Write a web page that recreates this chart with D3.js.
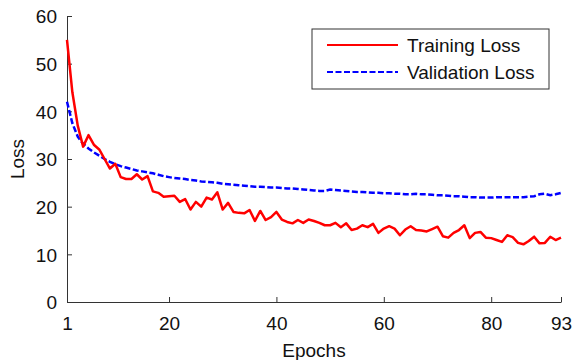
<!DOCTYPE html>
<html>
<head>
<meta charset="utf-8">
<script src="https://cdn.jsdelivr.net/npm/d3@7"></script>
<style>
  body { margin: 0; background: #fff; }
  svg { display: block; font-family: "Liberation Sans", Arial, sans-serif; }
</style>
</head>
<body>
<svg id="chart" width="574" height="360"></svg>
<script>
// training loss per epoch (1..93)
const trainLoss = [
  55, 44, 37, 32.6, 35, 33, 32, 30, 28, 29,
  26.2, 25.8, 25.8, 26.8, 25.7, 26.4, 23.2, 22.9, 22.1, 22.2,
  22.3, 21, 21.6, 19.4, 21, 20, 21.9, 21.5, 23, 19.4,
  20.8, 18.9, 18.7, 18.6, 19.3, 17, 19.1, 17.2, 17.8, 18.9,
  17.3, 16.8, 16.5, 17.2, 16.6, 17.3, 17, 16.6, 16.1, 16.1,
  16.6, 15.7, 16.5, 15.1, 15.4, 16.1, 15.7, 16.4, 14.5, 15.4,
  15.9, 15.4, 14, 15.2, 15.9, 15.1, 15.0, 14.8, 15.3, 15.8,
  13.8, 13.5, 14.5, 15.1, 16.1, 13.4, 14.5, 14.7, 13.5, 13.4,
  13, 12.6, 14, 13.6, 12.4, 12.1, 12.8, 13.7, 12.3, 12.4,
  13.7, 13, 13.5
];

// validation loss per epoch (1..93)
const valLoss = [
  42, 37.5, 34.7, 33.2, 32.2, 31.4, 30.7, 30.0, 29.4, 28.9,
  28.5, 28.2, 27.9, 27.6, 27.4, 27.2, 27.0, 26.7, 26.4, 26.2,
  26.0, 25.9, 25.8, 25.6, 25.5, 25.3, 25.2, 25.1, 25.0, 24.8,
  24.7, 24.6, 24.5, 24.4, 24.3, 24.2, 24.2, 24.1, 24.0, 24.0,
  23.9, 23.8, 23.8, 23.7, 23.6, 23.5, 23.4, 23.3, 23.3, 23.6,
  23.5, 23.4, 23.3, 23.2, 23.1, 23.1, 23.0, 22.9, 22.9, 22.8,
  22.8, 22.7, 22.7, 22.6, 22.6, 22.7, 22.6, 22.6, 22.5, 22.4,
  22.4, 22.3, 22.2, 22.2, 22.1, 22.0, 22.0, 21.9, 21.9, 21.9,
  22.0, 22.0, 22.0, 22.0, 22.0, 22.0, 22.1, 22.2, 22.6, 22.7,
  22.4, 22.6, 22.9
];

const xTicks = [1, 20, 40, 60, 80, 93];
const yTicks = [0, 10, 20, 30, 40, 50, 60];
const seriesNames = ["Training Loss", "Validation Loss"];

const margin = {left: 67, right: 13, top: 16, bottom: 58};
const width = 574, height = 360;
const fontSize = 19;
const axisColor = "#333";

const svg = d3.select("#chart");

const x = d3.scaleLinear().domain([1, 93]).range([margin.left, width - margin.right]);
const y = d3.scaleLinear().domain([0, 60]).range([height - margin.bottom, margin.top]);

// axes (matlab style: inward ticks, no box)
const xAxis = d3.axisBottom(x).tickValues(xTicks).tickSizeInner(-5).tickSizeOuter(0).tickPadding(10);
const yAxis = d3.axisLeft(y).tickValues(yTicks).tickSizeInner(-5).tickSizeOuter(0).tickPadding(10);

const gx = svg.append("g")
  .attr("transform", `translate(0,${y(0)})`)
  .call(xAxis);
const gy = svg.append("g")
  .attr("transform", `translate(${x(1)},0)`)
  .call(yAxis);

[gx, gy].forEach(g => {
  g.select(".domain").attr("stroke", axisColor).attr("stroke-width", 1);
  g.selectAll(".tick line").attr("stroke", axisColor);
  g.selectAll(".tick text")
    .attr("font-size", fontSize)
    .attr("font-family", "Liberation Sans, Arial, sans-serif")
    .attr("fill", "#111");
});
gx.selectAll(".tick text").attr("dy", "0.95em");
gy.selectAll(".tick text").attr("dy", "0.36em");

// axis labels
svg.append("text")
  .attr("x", (x(1) + x(93)) / 2)
  .attr("y", 357)
  .attr("text-anchor", "middle")
  .attr("font-size", fontSize)
  .attr("fill", "#111")
  .text("Epochs");

svg.append("text")
  .attr("transform", `translate(24,${(y(0) + y(60)) / 2}) rotate(-90)`)
  .attr("text-anchor", "middle")
  .attr("font-size", fontSize)
  .attr("fill", "#111")
  .text("Loss");

// lines
const line = d3.line()
  .x((d, i) => x(i + 1))
  .y(d => y(d));

svg.append("path")
  .datum(valLoss)
  .attr("fill", "none")
  .attr("stroke", "#0000ff")
  .attr("stroke-width", 2.5)
  .attr("stroke-dasharray", "6,2.5")
  .attr("d", line);

svg.append("path")
  .datum(trainLoss)
  .attr("fill", "none")
  .attr("stroke", "#ff0000")
  .attr("stroke-width", 2.5)
  .attr("stroke-linejoin", "round")
  .attr("d", line);

// legend
const legend = svg.append("g").attr("transform", "translate(312,29)");
legend.append("rect")
  .attr("width", 237)
  .attr("height", 60)
  .attr("fill", "#fff")
  .attr("stroke", axisColor)
  .attr("stroke-width", 1);

const styles = [
  {color: "#ff0000", dash: null},
  {color: "#0000ff", dash: "6,2.5"}
];
seriesNames.forEach((name, i) => {
  const cy = 16 + i * 27;
  legend.append("line")
    .attr("x1", 15).attr("x2", 86)
    .attr("y1", cy).attr("y2", cy)
    .attr("stroke", styles[i].color)
    .attr("stroke-width", 2)
    .attr("stroke-dasharray", styles[i].dash);
  legend.append("text")
    .attr("x", 95)
    .attr("y", cy)
    .attr("dy", "0.36em")
    .attr("font-size", fontSize)
    .attr("fill", "#111")
    .text(name);
});
</script>
</body>
</html>
